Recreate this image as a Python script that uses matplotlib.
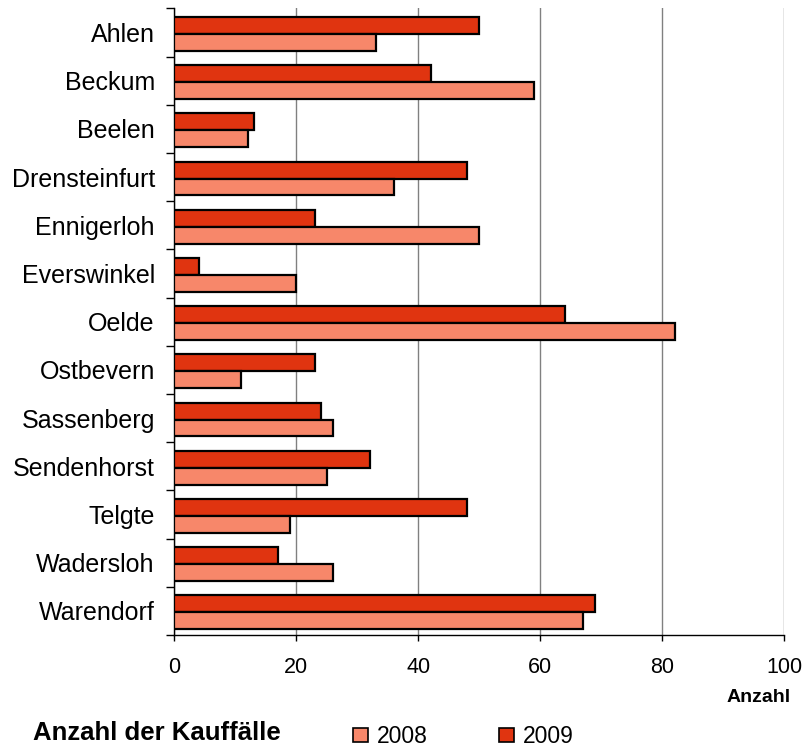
import matplotlib
matplotlib.use("Agg")
import matplotlib.pyplot as plt
import numpy as np
from matplotlib.patches import Patch

plt.rcParams['font.family'] = ['Liberation Sans', 'DejaVu Sans']

categories = ["Ahlen", "Beckum", "Beelen", "Drensteinfurt", "Ennigerloh", "Everswinkel",
              "Oelde", "Ostbevern", "Sassenberg", "Sendenhorst", "Telgte", "Wadersloh", "Warendorf"]
values_2008 = [33, 59, 12, 36, 50, 20, 82, 11, 26, 25, 19, 26, 67]
values_2009 = [50, 42, 13, 48, 23, 4, 64, 23, 24, 32, 48, 17, 69]
x_ticks = [0, 20, 40, 60, 80, 100]

c2008 = "#F7876A"
c2009 = "#E03410"

fig = plt.figure(figsize=(8.04, 7.49), dpi=100)
ax = fig.add_axes([174.3/804, 1 - 635/749, (784.3-174.3)/804, (635-8.4)/749])

y = np.arange(len(categories))
h = 0.35
ax.barh(y - h/2 + 0.03, values_2009, height=h, color=c2009, edgecolor="black", linewidth=1.6, zorder=3)
ax.barh(y + h/2 + 0.03, values_2008, height=h, color=c2008, edgecolor="black", linewidth=1.6, zorder=3)

ax.set_ylim(len(categories) - 0.5, -0.5)
ax.set_xlim(0, 100)
ax.set_yticks(y)
ax.set_yticklabels(categories, fontsize=18)
ax.set_yticks(np.arange(len(categories) + 1) - 0.5, minor=True)
ax.tick_params(axis='y', which='major', length=0, pad=14)
ax.tick_params(axis='y', which='minor', length=6, width=1, direction='out', color='black')
ax.set_xticks(x_ticks)
ax.set_xticklabels([str(v) for v in x_ticks], fontsize=15.5)
ax.tick_params(axis='x', length=4.5, width=1, direction='out', pad=11)

ax.grid(axis='x', color='#808080', linewidth=1, zorder=0)
ax.set_axisbelow(True)
for s in ['top', 'right']:
    ax.spines[s].set_visible(False)
ax.spines['left'].set_linewidth(1)
ax.spines['bottom'].set_linewidth(1)

fig.text(791/804, 1 - 698/749, "Anzahl", fontsize=14, fontweight='bold', ha='right', va='center')
fig.text(33/804, 1 - 733/749, "Anzahl der Kauffälle", fontsize=18.5, fontweight='bold', ha='left', va='center')

handles = [Patch(facecolor=c2008, edgecolor='black', linewidth=1.2, label='2008'),
           Patch(facecolor=c2009, edgecolor='black', linewidth=1.2, label='2009')]
leg = fig.legend(handles=handles, loc='center left', bbox_to_anchor=(352.7/804, 1 - 736.5/749), ncol=2,
                 frameon=False, fontsize=16.5, handlelength=0.68, handleheight=0.55,
                 handletextpad=0.38, columnspacing=3.1, borderpad=0, borderaxespad=0)

fig.savefig("out.png", dpi=100)
